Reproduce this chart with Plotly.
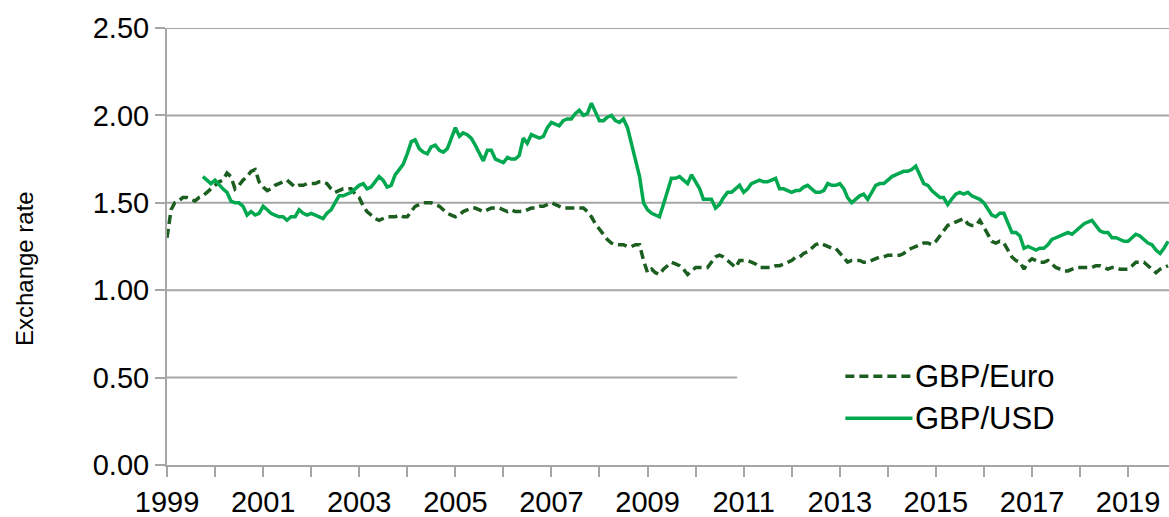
import pandas as pd
import plotly.graph_objects as go

# monthly series, Jan 1999 - Nov 2019
months = pd.date_range("1999-01-01", "2019-11-01", freq="MS")

gbp_euro = [
    # 1999
    1.30, 1.46, 1.50, 1.51, 1.53, 1.53, 1.52, 1.51, 1.53, 1.54, 1.56, 1.58,
    # 2000
    1.60, 1.62, 1.63, 1.67, 1.65, 1.58, 1.60, 1.63, 1.65, 1.68, 1.69, 1.62,
    # 2001
    1.59, 1.57, 1.58, 1.60, 1.61, 1.62, 1.63, 1.61, 1.59, 1.60, 1.60, 1.61,
    # 2002
    1.61, 1.61, 1.62, 1.62, 1.61, 1.58, 1.56, 1.57, 1.58, 1.58, 1.58, 1.55,
    # 2003
    1.53, 1.48, 1.45, 1.43, 1.41, 1.40, 1.41, 1.42, 1.42, 1.42, 1.43, 1.42,
    # 2004
    1.42, 1.45, 1.48, 1.49, 1.50, 1.50, 1.50, 1.49, 1.48, 1.46, 1.44, 1.43,
    # 2005
    1.42, 1.43, 1.45, 1.46, 1.47, 1.47, 1.46, 1.45, 1.46, 1.47, 1.47, 1.47,
    # 2006
    1.46, 1.45, 1.46, 1.45, 1.45, 1.45, 1.46, 1.47, 1.47, 1.48, 1.48, 1.49,
    # 2007
    1.50, 1.49, 1.48, 1.47, 1.47, 1.47, 1.47, 1.47, 1.47, 1.45, 1.42, 1.38,
    # 2008
    1.35, 1.32, 1.29, 1.27, 1.26, 1.26, 1.26, 1.25, 1.25, 1.26, 1.26, 1.17,
    # 2009
    1.10, 1.12, 1.10, 1.09, 1.12, 1.14, 1.16, 1.15, 1.14, 1.12, 1.09, 1.11,
    # 2010
    1.13, 1.13, 1.13, 1.13, 1.16, 1.19, 1.20, 1.19, 1.17, 1.15, 1.13, 1.17,
    # 2011
    1.17, 1.17, 1.16, 1.15, 1.13, 1.13, 1.13, 1.13, 1.14, 1.14, 1.15, 1.16,
    # 2012
    1.17, 1.19, 1.19, 1.21, 1.22, 1.24, 1.26, 1.27, 1.26, 1.25, 1.24, 1.24,
    # 2013
    1.21, 1.18, 1.16, 1.17, 1.17, 1.17, 1.16, 1.16, 1.17, 1.18, 1.19, 1.19,
    # 2014
    1.20, 1.20, 1.20, 1.20, 1.21, 1.23, 1.24, 1.25, 1.26, 1.27, 1.27, 1.26,
    # 2015
    1.28, 1.31, 1.34, 1.37, 1.38, 1.39, 1.40, 1.41, 1.38, 1.37, 1.37, 1.40,
    # 2016
    1.36, 1.32, 1.28, 1.27, 1.28, 1.27, 1.23, 1.19, 1.17, 1.16, 1.12, 1.16,
    # 2017
    1.18, 1.17, 1.16, 1.16, 1.17, 1.15, 1.13, 1.12, 1.11, 1.11, 1.12, 1.13,
    # 2018
    1.13, 1.13, 1.13, 1.13, 1.14, 1.14, 1.13, 1.12, 1.13, 1.13, 1.12, 1.12,
    # 2019
    1.12, 1.14, 1.16, 1.16, 1.16, 1.14, 1.12, 1.10, 1.12, 1.13, 1.14,
]

gbp_usd = [
    # 1999 (series starts in October)
    None, None, None, None, None, None, None, None, None, 1.65, 1.63, 1.61,
    # 2000
    1.63, 1.60, 1.58, 1.56, 1.51, 1.50, 1.50, 1.48, 1.43, 1.45, 1.43, 1.44,
    # 2001
    1.48, 1.46, 1.44, 1.43, 1.42, 1.42, 1.40, 1.42, 1.42, 1.46, 1.44, 1.43,
    # 2002
    1.44, 1.43, 1.42, 1.41, 1.44, 1.46, 1.50, 1.54, 1.54, 1.55, 1.56, 1.58,
    # 2003
    1.60, 1.61, 1.58, 1.59, 1.62, 1.65, 1.63, 1.59, 1.60, 1.66, 1.69, 1.72,
    # 2004
    1.78, 1.85, 1.86, 1.81, 1.79, 1.78, 1.82, 1.83, 1.80, 1.79, 1.81, 1.87,
    # 2005
    1.93, 1.88, 1.90, 1.89, 1.87, 1.83, 1.78, 1.74, 1.80, 1.80, 1.75, 1.74,
    # 2006
    1.73, 1.76, 1.75, 1.75, 1.77, 1.87, 1.84, 1.89, 1.88, 1.87, 1.88, 1.93,
    # 2007
    1.96, 1.95, 1.94, 1.97, 1.98, 1.98, 2.01, 2.03, 2.00, 2.01, 2.07, 2.02,
    # 2008
    1.97, 1.97, 1.99, 2.00, 1.97, 1.96, 1.98, 1.93, 1.84, 1.75, 1.65, 1.50,
    # 2009
    1.46, 1.44, 1.43, 1.42, 1.49, 1.56, 1.64, 1.64, 1.65, 1.63, 1.61, 1.66,
    # 2010
    1.62, 1.58, 1.52, 1.52, 1.52, 1.47, 1.49, 1.53, 1.56, 1.56, 1.58, 1.60,
    # 2011
    1.56, 1.58, 1.61, 1.62, 1.63, 1.62, 1.62, 1.63, 1.64, 1.58, 1.58, 1.57,
    # 2012
    1.56, 1.57, 1.57, 1.59, 1.60, 1.58, 1.56, 1.56, 1.57, 1.61, 1.60, 1.60,
    # 2013
    1.61, 1.58, 1.53, 1.50, 1.52, 1.54, 1.55, 1.52, 1.56, 1.60, 1.61, 1.61,
    # 2014
    1.63, 1.65, 1.66, 1.67, 1.68, 1.68, 1.69, 1.71, 1.66, 1.61, 1.60, 1.57,
    # 2015
    1.55, 1.53, 1.53, 1.49, 1.52, 1.55, 1.56, 1.55, 1.56, 1.54, 1.53, 1.52,
    # 2016
    1.50, 1.46, 1.43, 1.42, 1.44, 1.44, 1.39, 1.33, 1.33, 1.31, 1.24, 1.25,
    # 2017
    1.24, 1.23, 1.24, 1.24, 1.26, 1.29, 1.30, 1.31, 1.32, 1.33, 1.32, 1.34,
    # 2018
    1.36, 1.38, 1.39, 1.40, 1.37, 1.34, 1.33, 1.33, 1.30, 1.30, 1.29, 1.28,
    # 2019
    1.28, 1.30, 1.32, 1.31, 1.29, 1.27, 1.26, 1.23, 1.21, 1.24, 1.28,
]

year_ticks = pd.date_range("1999-01-01", "2019-01-01", freq="YS")
year_labels = [str(d.year) if d.year % 2 == 1 else "" for d in year_ticks]
y_ticks = [0, 0.5, 1.0, 1.5, 2.0, 2.5]

euro_color = "#1b5e20"
usd_color = "#00a84f"
grid_color = "#a6a6a6"
font_family = "Liberation Sans, Arial, sans-serif"
euro_dash = "9px,5px"

fig = go.Figure()

# gridlines as shapes: the 0.50 one stops where the legend box begins
for v in y_ticks[1:]:
    fig.add_shape(
        type="line",
        xref="paper",
        yref="y",
        x0=0,
        x1=0.569 if v == 0.5 else 1.0,
        y0=v,
        y1=v,
        line=dict(color=grid_color, width=2),
        layer="below",
    )

fig.add_trace(
    go.Scatter(
        x=months,
        y=gbp_euro,
        name="GBP/Euro",
        mode="lines",
        line=dict(color=euro_color, width=3.5, dash=euro_dash),
        showlegend=False,
    )
)
fig.add_trace(
    go.Scatter(
        x=months,
        y=gbp_usd,
        name="GBP/USD",
        mode="lines",
        line=dict(color=usd_color, width=3.5),
        showlegend=False,
    )
)

# hand-drawn legend
legend_items = [("GBP/Euro", euro_color, euro_dash, 0.203), ("GBP/USD", usd_color, "solid", 0.107)]
for label, color, dash, ypos in legend_items:
    fig.add_shape(
        type="line",
        xref="paper",
        yref="paper",
        x0=0.677,
        x1=0.744,
        y0=ypos,
        y1=ypos,
        line=dict(color=color, width=3.5, dash=dash),
    )
    fig.add_annotation(
        x=0.745,
        y=ypos,
        xref="paper",
        yref="paper",
        text=label,
        showarrow=False,
        xanchor="left",
        yanchor="middle",
        font=dict(size=31, color="#000000", family=font_family),
    )

# y-axis title, placed a little below the plot's middle as in the original
fig.add_annotation(
    x=-0.142,
    y=0.45,
    xref="paper",
    yref="paper",
    text="Exchange rate",
    textangle=-90,
    showarrow=False,
    xanchor="center",
    yanchor="middle",
    font=dict(size=24, color="#000000", family=font_family),
)

fig.update_layout(
    width=1169,
    height=517,
    margin=dict(l=167, r=0, t=28, b=52),
    paper_bgcolor="white",
    plot_bgcolor="white",
    font=dict(family=font_family, size=29, color="#000000"),
    showlegend=False,
)

fig.update_xaxes(
    type="date",
    range=["1999-01-01", "2019-11-08"],
    tickvals=year_ticks,
    ticktext=year_labels,
    ticks="outside",
    ticklen=10,
    tickwidth=1.5,
    tickcolor=grid_color,
    showline=True,
    linecolor=grid_color,
    linewidth=2,
    showgrid=False,
    tickfont=dict(size=29),
)

fig.update_yaxes(
    range=[0, 2.5],
    tickvals=y_ticks,
    tickformat=".2f",
    ticks="outside",
    ticklen=10,
    tickwidth=1.5,
    tickcolor=grid_color,
    showline=True,
    linecolor=grid_color,
    linewidth=2,
    showgrid=False,
    zeroline=False,
    tickfont=dict(size=29),
)

# drop the page's default body margin so the figure sits at the window's corner
fig.write_html(
    "out.html",
    config={"displayModeBar": False},
    post_script="document.body.style.margin = '0';",
)
